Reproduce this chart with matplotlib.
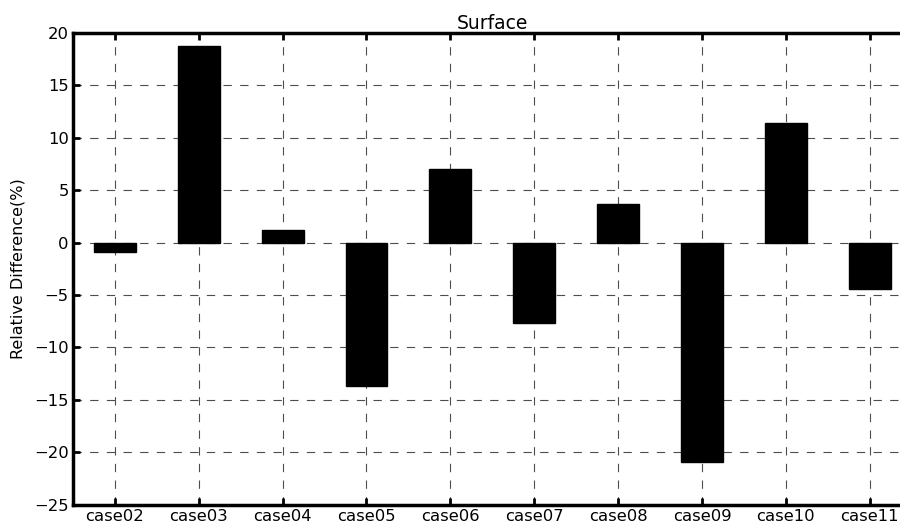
import numpy as np
from matplotlib import pyplot as plt

plt.rcParams["font.family"] = ["DejaVu Sans"]
plt.rcParams["lines.scale_dashes"] = False

cases = ["case02", "case03", "case04", "case05", "case06",
         "case07", "case08", "case09", "case10", "case11"]
rel_diff = [-0.9, 18.7, 1.2, -13.7, 7.0, -7.7, 3.7, -20.9, 11.4, -4.4]

fig = plt.figure(figsize=(9.0, 5.27), dpi=100)
ax = fig.add_axes([0.081, 0.042, 0.932, 0.896])

x = np.arange(len(cases))
ax.bar(x, rel_diff, width=0.5, color="k", edgecolor="k", zorder=2)

ax.set_xlim(-0.5, len(cases) - 0.5)
ax.set_ylim(-25, 20)
ax.set_yticks(np.arange(-25, 21, 5))
ax.set_xticks(x)
ax.set_xticklabels(cases, fontsize=11.8)
ax.tick_params(axis="y", labelsize=11.8)
ax.tick_params(direction="in", length=5, width=2, top=True, right=True, pad=3)
for s in ax.spines.values():
    s.set_linewidth(2.5)

ax.grid(True, color="0.3", linestyle="--", linewidth=0.8, dashes=(6, 6))
ax.set_axisbelow(True)
ax.set_title("Surface", fontsize=13.5, pad=3)
ax.set_ylabel("Relative Difference(%)", fontsize=11.5, labelpad=6)

fig.savefig("out.png", dpi=100)
